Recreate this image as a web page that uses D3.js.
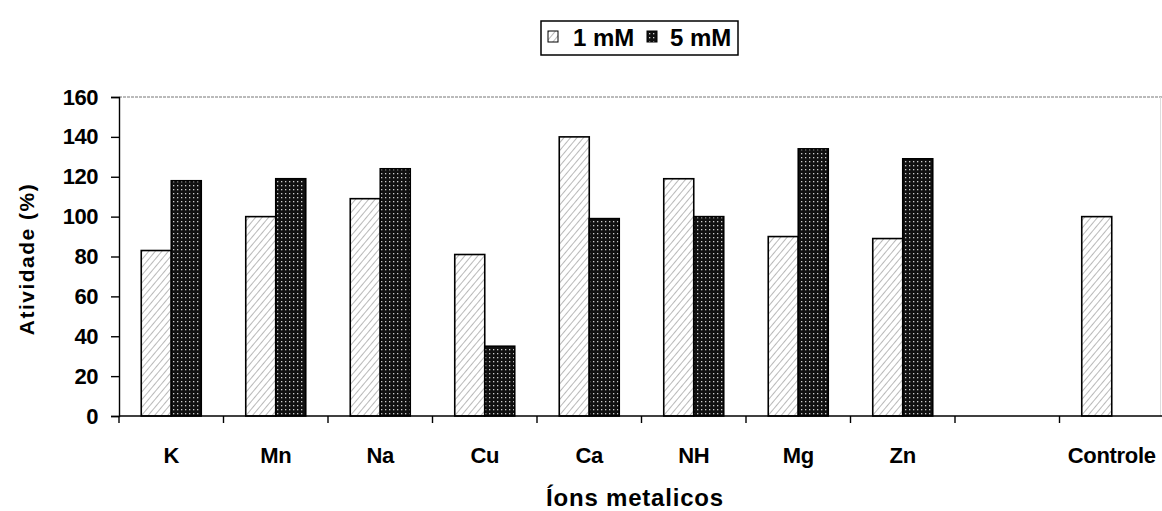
<!DOCTYPE html>
<html><head><meta charset="utf-8">
<script src="https://cdnjs.cloudflare.com/ajax/libs/d3/7.8.5/d3.min.js"></script>
<style>body{margin:0;background:#fff}svg{display:block}text{font-family:"Liberation Sans",Arial,sans-serif;font-weight:bold;fill:#000}</style>
</head><body><svg id="c" width="1162" height="511"></svg>
<script>
const categories = ["K","Mn","Na","Cu","Ca","NH","Mg","Zn","","Controle"];
const series1mM = [83,100,109,81,140,119,90,89,0,100];
const series5mM = [118,119,124,35,99,100,134,129,0,0];
const seriesNames = ["1 mM","5 mM"];
const yTicks = [0,20,40,60,80,100,120,140,160];

const svg = d3.select("#c");
const defs = svg.append("defs");
const h = defs.append("pattern").attr("id","hatch").attr("patternUnits","userSpaceOnUse").attr("width",5).attr("height",5).attr("patternTransform","rotate(40)");
h.append("rect").attr("width",5).attr("height",5).attr("fill","#fff");
h.append("line").attr("x1",0).attr("y1",0).attr("x2",0).attr("y2",5).attr("stroke","#8a8a8a").attr("stroke-width",1.2);
const d = defs.append("pattern").attr("id","dots").attr("patternUnits","userSpaceOnUse").attr("width",4).attr("height",4);
d.append("rect").attr("width",4).attr("height",4).attr("fill","#111");
d.append("rect").attr("x",1).attr("y",1).attr("width",1.3).attr("height",1.3).attr("fill","#ccc");

const L=119,R=1164,T=97,B=416;
const x = d3.scaleBand().domain(categories).range([L,R]).paddingInner(0).paddingOuter(0);
const y = d3.scaleLinear().domain([0,160]).range([B,T]);
const bw = 30;

// top border dotted
svg.append("line").attr("x1",L).attr("x2",1162).attr("y1",T).attr("y2",T).attr("stroke","#777").attr("stroke-dasharray","3,1");
svg.append("line").attr("x1",1160.5).attr("x2",1160.5).attr("y1",T).attr("y2",B).attr("stroke","#ddd");

const data = categories.map((c,i)=>({c,v1:series1mM[i],v5:series5mM[i]}));
const g = svg.append("g");
data.forEach(dd=>{
  const cx = x(dd.c)+x.bandwidth()/2;
  g.append("rect").attr("x",cx-bw).attr("y",y(dd.v1)).attr("width",bw).attr("height",B-y(dd.v1))
    .attr("fill","url(#hatch)").attr("stroke","#000").attr("stroke-width",1.6);
  if(dd.v5>0) g.append("rect").attr("x",cx).attr("y",y(dd.v5)).attr("width",bw).attr("height",B-y(dd.v5))
    .attr("fill","url(#dots)").attr("stroke","#000").attr("stroke-width",1.6);
});

// y axis
const ya = svg.append("g").attr("transform",`translate(${L},0)`).call(d3.axisLeft(y).tickValues(yTicks).tickSize(8).tickPadding(13));
ya.select(".domain").attr("stroke","#000").attr("stroke-width",1.4);
ya.selectAll("line").attr("stroke","#000").attr("stroke-width",1.4);
ya.selectAll("text").style("font-size","22px").style("letter-spacing","-0.5px");

// x axis
svg.append("line").attr("x1",L).attr("x2",1162).attr("y1",B).attr("y2",B).attr("stroke","#000").attr("stroke-width",1.6);
const bounds = categories.map(c=>x(c)).concat([R]);
svg.selectAll(".xt").data(bounds).join("line").attr("x1",d=>d).attr("x2",d=>d).attr("y1",B).attr("y2",B+7).attr("stroke","#000").attr("stroke-width",1.4);
svg.selectAll(".xl").data(categories).join("text").attr("x",c=>x(c)+x.bandwidth()/2).attr("y",463)
  .attr("text-anchor","middle").style("font-size","22px").style("letter-spacing","-0.3px").text(c=>c);

// titles
svg.append("text").attr("transform","translate(34,259) rotate(-90)").attr("text-anchor","middle").style("font-size","21px").style("letter-spacing","1.5px").text("Atividade (%)");
svg.append("text").attr("x",635).attr("y",506).attr("text-anchor","middle").style("font-size","24px").style("letter-spacing","0.8px").text("Íons metalicos");

// legend
const lg = svg.append("g");
lg.append("rect").attr("x",541).attr("y",21).attr("width",197).attr("height",34).attr("fill","#fff").attr("stroke","#000").attr("stroke-width",1.5);
lg.append("rect").attr("x",548).attr("y",31).attr("width",10).attr("height",11).attr("fill","url(#hatch)").attr("stroke","#000");
lg.append("text").attr("x",573).attr("y",46).style("font-size","24px").text(seriesNames[0]);
lg.append("rect").attr("x",647).attr("y",31).attr("width",10).attr("height",11).attr("fill","url(#dots)").attr("stroke","#000");
lg.append("text").attr("x",670).attr("y",46).style("font-size","24px").text(seriesNames[1]);
</script></body></html>
